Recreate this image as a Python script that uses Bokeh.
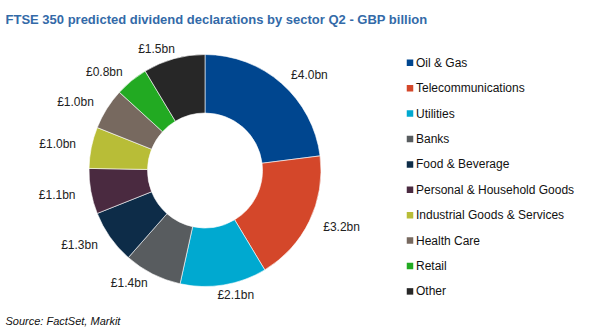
import math
from bokeh.plotting import figure
from bokeh.models import ColumnDataSource
from bokeh.core.properties import value
from bokeh.embed import file_html
from bokeh.resources import INLINE

sectors = ["Oil & Gas", "Telecommunications", "Utilities", "Banks", "Food & Beverage",
           "Personal & Household Goods", "Industrial Goods & Services", "Health Care",
           "Retail", "Other"]
values = [4.0, 3.2, 2.1, 1.4, 1.3, 1.1, 1.0, 1.0, 0.8, 1.5]
labels = ["£4.0bn", "£3.2bn", "£2.1bn", "£1.4bn", "£1.3bn", "£1.1bn", "£1.0bn", "£1.0bn", "£0.8bn", "£1.5bn"]
colors = ["#00468f", "#d4472a", "#00a9d0", "#585c5f", "#0d2c48", "#4a2a40",
          "#b8bd37", "#77695f", "#22aa22", "#272727"]

W, H = 590, 335
FONT = "Liberation Sans"

p = figure(width=W, height=H, x_range=(0, W), y_range=(0, H), output_backend="svg",
           toolbar_location=None, min_border=0)
p.axis.visible = False
p.grid.visible = False
p.outline_line_color = None
p.background_fill_color = "white"

cx, cy = 204.5, H - 170
R_out, R_in = 116, 57.5

total = sum(values)
starts, ends, lx, ly = [], [], [], []
cum = 0.0
for v in values:
    a0 = math.pi / 2 - cum / total * 2 * math.pi
    a1 = math.pi / 2 - (cum + v) / total * 2 * math.pi
    th = (cum + v / 2) / total * 2 * math.pi  # clockwise from top
    s, c = math.sin(th), math.cos(th)
    lx.append(cx + 134 * s + 16 * math.tanh(4 * s))
    ly.append(cy + 122 * c + 4 * math.tanh(4 * c))
    starts.append(a0)
    ends.append(a1)
    cum += v

src = ColumnDataSource(dict(start=starts, end=ends, color=colors, sector=sectors,
                            lx=lx, ly=ly, label=labels))
p.annular_wedge(x=cx, y=cy, inner_radius=R_in, outer_radius=R_out,
                start_angle="start", end_angle="end", direction="clock",
                fill_color="color", line_color="white", line_width=0.6, source=src)
p.text(x="lx", y="ly", text="label", source=src, text_align="center",
       text_baseline="middle", text_font=value(FONT), text_font_size="12px",
       text_color="#222222")

# legend
leg_y = [H - (62.3 + i * 25.4) for i in range(len(sectors))]
leg_src = ColumnDataSource(dict(y=leg_y, color=colors, sector=sectors,
                                sx=[409.5] * len(sectors), tx=[415.5] * len(sectors)))
p.rect(x="sx", y="y", width=6.5, height=6.5, fill_color="color", line_color=None, source=leg_src)
p.text(x="tx", y="y", text="sector", source=leg_src, text_align="left",
       text_baseline="middle", text_font=value(FONT), text_font_size="12px",
       text_color="#111111")

# title and source
p.text(x=[5], y=[H - 19], text=["FTSE 350 predicted dividend declarations by sector Q2 - GBP billion"],
       text_align="left", text_baseline="middle", text_font=value(FONT),
       text_font_size="13px", text_font_style="bold", text_color="#336aa8")
p.text(x=[5], y=[H - 320], text=["Source: FactSet, Markit"],
       text_align="left", text_baseline="middle", text_font=value(FONT),
       text_font_size="11px", text_font_style="italic", text_color="#111111")

open("out.html", "w").write(file_html(p, INLINE))
